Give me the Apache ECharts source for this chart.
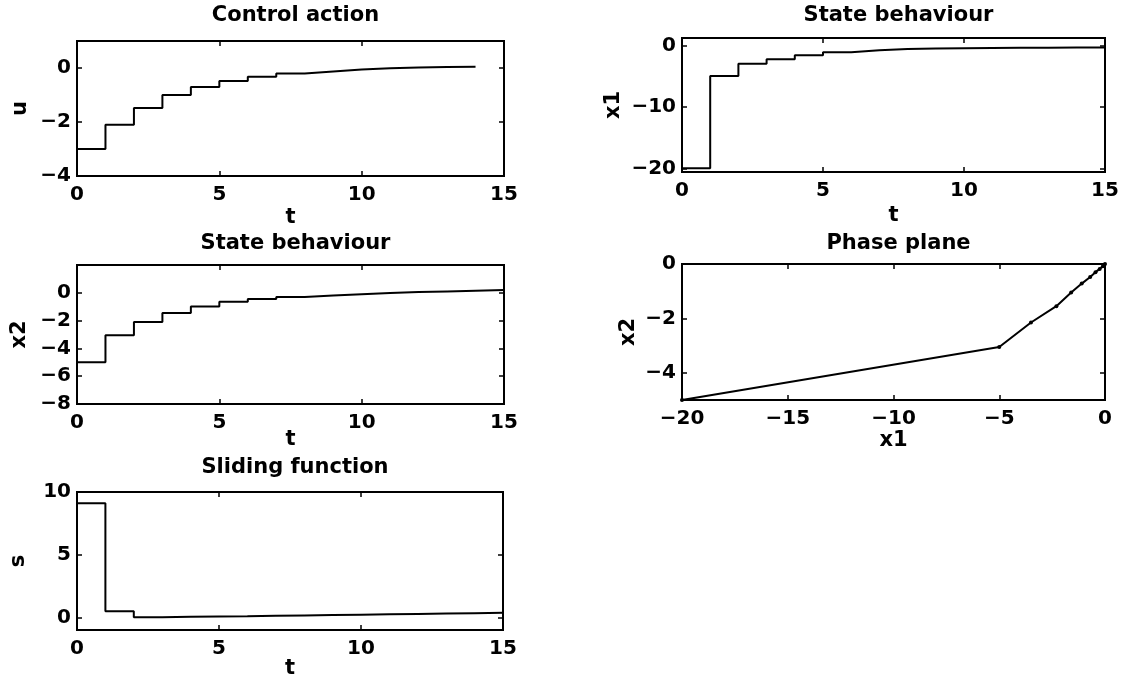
<!DOCTYPE html>
<html>
<head>
<meta charset="utf-8">
<script src="https://cdn.jsdelivr.net/npm/echarts@6/dist/echarts.min.js"></script>
<style>
html,body{margin:0;padding:0;background:#fff;}
#chart{width:1126px;height:680px;}
</style>
</head>
<body>
<div id="chart"></div>
<script>
// ---- data ----
const uValues  = [-3.0, -2.1, -1.48, -1.0, -0.7, -0.48, -0.32, -0.2, -0.13, -0.06, -0.01, 0.02, 0.04, 0.05];
const x1Values = [-20, -5, -3, -2.25, -1.6, -1.1, -0.8, -0.6, -0.5, -0.45, -0.42, -0.4, -0.38, -0.36, -0.35];
const x2Values = [-5, -3.05, -2.1, -1.45, -0.98, -0.65, -0.45, -0.3, -0.2, -0.1, -0.02, 0.05, 0.1, 0.15, 0.2];
const sValues  = [9.1, 0.5, 0.02, 0.05, 0.08, 0.1, 0.13, 0.16, 0.19, 0.22, 0.25, 0.28, 0.31, 0.34, 0.37];
const phaseX1  = [-20, -5, -3.5, -2.3, -1.6, -1.1, -0.7, -0.45, -0.25, -0.1, 0];
const phaseX2  = [-5, -3.05, -2.15, -1.55, -1.05, -0.72, -0.48, -0.3, -0.18, -0.08, 0];

const tTicks      = [0, 5, 10, 15];
const uTicks      = [-4, -2, 0];
const x1Ticks     = [-20, -10, 0];
const x2Ticks     = [-8, -6, -4, -2, 0];
const phaseXTicks = [-20, -15, -10, -5, 0];
const phaseYTicks = [-4, -2, 0];
const sTicks      = [0, 5, 10];

const titles = ['Control action', 'State behaviour', 'State behaviour', 'Phase plane', 'Sliding function'];

// ---- helpers ----
const FONT = 'DejaVu Sans';
const FS_TICK = 20;
const FS_TEXT = 21;
function stairs(vals) {
  const pts = vals.map((v, i) => [i, v]);
  pts.push([vals.length, vals[vals.length - 1]]);
  return pts;
}
function minus(v) { return String(v).replace('-', '\u2212'); }

const panels = [
  {title: titles[0], titleTop: 0, l: 77, t: 41, r: 504, b: 176, xmin: 0, xmax: 15, xt: tTicks, ymin: -4, ymax: 1, yt: uTicks,
   xname: 't', yname: 'u', xgap: 31, ygap: 46, data: stairs(uValues), step: true},
  {title: titles[1], titleTop: 0, l: 682, t: 38, r: 1105, b: 172, xmin: 0, xmax: 15, xt: tTicks, ymin: -20.6, ymax: 1.2, yt: x1Ticks,
   xname: 't', yname: 'x1', xgap: 33, ygap: 58, data: stairs(x1Values), step: true},
  {title: titles[2], titleTop: 228, l: 77, t: 265, r: 504, b: 404, xmin: 0, xmax: 15, xt: tTicks, ymin: -8, ymax: 2, yt: x2Ticks,
   xname: 't', yname: 'x2', xgap: 25, ygap: 47, data: stairs(x2Values), step: true},
  {title: titles[3], titleTop: 228, l: 682, t: 264, r: 1105, b: 400, xmin: -20, xmax: 0, xt: phaseXTicks, ymin: -5, ymax: 0, yt: phaseYTicks,
   xname: 'x1', yname: 'x2', xgap: 30, ygap: 43, data: phaseX1.map((v, i) => [v, phaseX2[i]]), step: false},
  {title: titles[4], titleTop: 452, l: 77, t: 492, r: 503, b: 632, xmin: 0, xmax: 15, xt: tTicks, ymin: -1, ymax: 10, yt: sTicks,
   xname: 't', yname: 's', xgap: 28, ygap: 48, data: stairs(sValues), step: true}
];

const txtTick = {color: '#000', fontFamily: FONT, fontWeight: 'bold', fontSize: FS_TICK};
const txt = {color: '#000', fontFamily: FONT, fontWeight: 'bold', fontSize: FS_TEXT};
const option = {
  animation: false,
  backgroundColor: '#fff',
  title: [], grid: [], xAxis: [], yAxis: [], series: []
};

panels.forEach((p, i) => {
  const w = p.r - p.l, h = p.b - p.t;
  option.title.push({
    text: p.title, left: (p.l + p.r) / 2, top: p.titleTop, textAlign: 'center',
    textStyle: Object.assign({}, txt)
  });
  option.grid.push({left: p.l, top: p.t, width: w, height: h, show: true, borderColor: '#000', borderWidth: 2, backgroundColor: 'transparent'});
  const lineStyle = {color: '#000', width: 2};
  const tickIn = (vals) => ({show: true, inside: true, length: 5, customValues: vals, lineStyle: {color: '#000', width: 1.5}});
  // bottom x
  option.xAxis.push({
    type: 'value', gridIndex: i, position: 'bottom', min: p.xmin, max: p.xmax,
    axisLine: {show: true, onZero: false, lineStyle}, axisTick: tickIn(p.xt),
    axisLabel: Object.assign({show: true, margin: 9, customValues: p.xt, formatter: minus}, txtTick),
    splitLine: {show: false},
    name: p.xname, nameLocation: 'middle', nameGap: p.xgap, nameMoveOverlap: false, nameTextStyle: txt
  });
  // top x
  option.xAxis.push({
    type: 'value', gridIndex: i, position: 'top', min: p.xmin, max: p.xmax,
    axisLine: {show: true, onZero: false, lineStyle}, axisTick: tickIn(p.xt),
    axisLabel: {show: false}, splitLine: {show: false}
  });
  // left y
  option.yAxis.push({
    type: 'value', gridIndex: i, position: 'left', min: p.ymin, max: p.ymax,
    axisLine: {show: true, onZero: false, lineStyle}, axisTick: tickIn(p.yt),
    axisLabel: Object.assign({show: true, margin: 6, customValues: p.yt, formatter: minus}, txtTick),
    splitLine: {show: false},
    name: p.yname, nameLocation: 'middle', nameRotate: 90, nameGap: p.ygap, nameMoveOverlap: false, nameTextStyle: txt
  });
  // right y
  option.yAxis.push({
    type: 'value', gridIndex: i, position: 'right', min: p.ymin, max: p.ymax,
    axisLine: {show: true, onZero: false, lineStyle}, axisTick: tickIn(p.yt),
    axisLabel: {show: false}, splitLine: {show: false}
  });
  option.series.push({
    type: 'line', xAxisIndex: 2 * i, yAxisIndex: 2 * i,
    data: p.data, step: p.step ? 'end' : false,
    showSymbol: !p.step, symbol: 'circle', symbolSize: 4,
    itemStyle: {color: '#000'},
    lineStyle: {color: '#000', width: 2},
    silent: true, clip: true
  });
});

const chart = echarts.init(document.getElementById('chart'), null, {renderer: 'canvas'});
chart.setOption(option);
</script>
</body>
</html>
